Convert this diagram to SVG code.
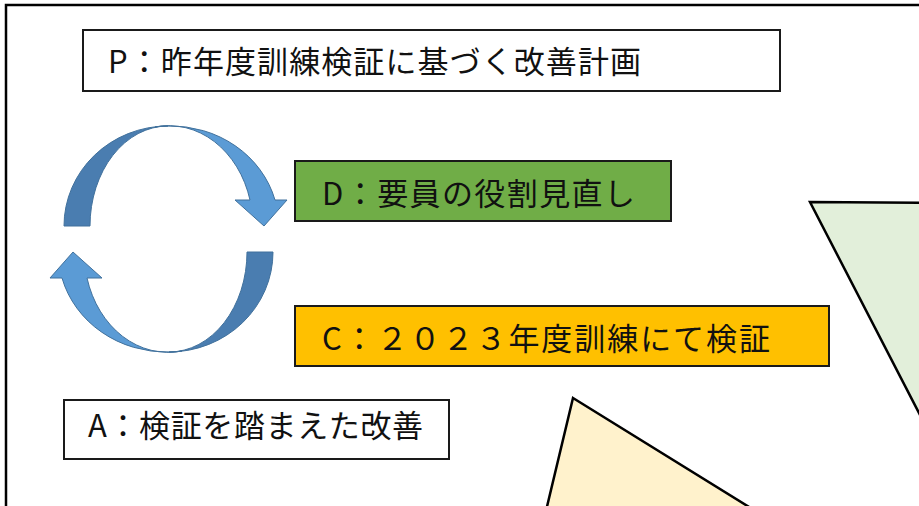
<svg xmlns="http://www.w3.org/2000/svg" width="919" height="506" viewBox="0 0 919 506">
<style>
.box{stroke:#1a1a1a;stroke-width:2}
.t{font-family:"Noto Sans CJK JP","Noto Sans",sans-serif;font-size:31px;fill:#111}
.tri{stroke:#000;stroke-width:2.5;stroke-linejoin:miter}
.dark{fill:#4A7DB0;stroke:#41719C;stroke-width:1}
.light{fill:#5B9BD5;stroke:#41719C;stroke-width:1}
</style>
<defs>
<g id="arrowHalf">
<path class="light" d="M168,126 A108,100 0 0 1 275,200 L287,200 L264,226 L235,200 L250,200 A84,100 0 0 0 155,127 Q160,126 168,126 Z"/>
<path class="dark" d="M64,226 A104,100 0 0 1 168,126 A78,100 0 0 0 90,226 Z"/>
</g>
</defs>
<rect width="919" height="506" fill="#fff"/>
<g id="frame"><path d="M6,506 L6,5 L919,5" fill="none" stroke="#000" stroke-width="2.5"/></g>
<g id="triangle-green"><polygon class="tri" fill="#E2EFDA" points="810,202 935,203 935,444"/></g>
<g id="triangle-orange"><polygon class="tri" fill="#FFF2CC" points="573,398 762,515 545,515"/></g>
<g id="cycle-arrows">
<use href="#arrowHalf"/>
<use href="#arrowHalf" transform="rotate(180 168.5 239)"/>
</g>
<g id="node-P">
<rect class="box" x="83" y="30" width="697" height="61" fill="#fff"/>
<text class="t" x="108" y="73" textLength="533" lengthAdjust="spacing">P：昨年度訓練検証に基づく改善計画</text>
</g>
<g id="node-D">
<rect class="box" x="295" y="161" width="376" height="60" fill="#70AD47"/>
<text class="t" x="322" y="205" textLength="313" lengthAdjust="spacing">D：要員の役割見直し</text>
</g>
<g id="node-C">
<rect class="box" x="295" y="306" width="534" height="60" fill="#FFC000"/>
<text class="t" x="322" y="350" textLength="448" lengthAdjust="spacing">C：２０２３年度訓練にて検証</text>
</g>
<g id="node-A">
<rect class="box" x="64" y="400" width="385" height="59" fill="#fff"/>
<text class="t" x="88" y="437" textLength="335" lengthAdjust="spacing">A：検証を踏まえた改善</text>
</g>
<g id="connectors"/>
</svg>
